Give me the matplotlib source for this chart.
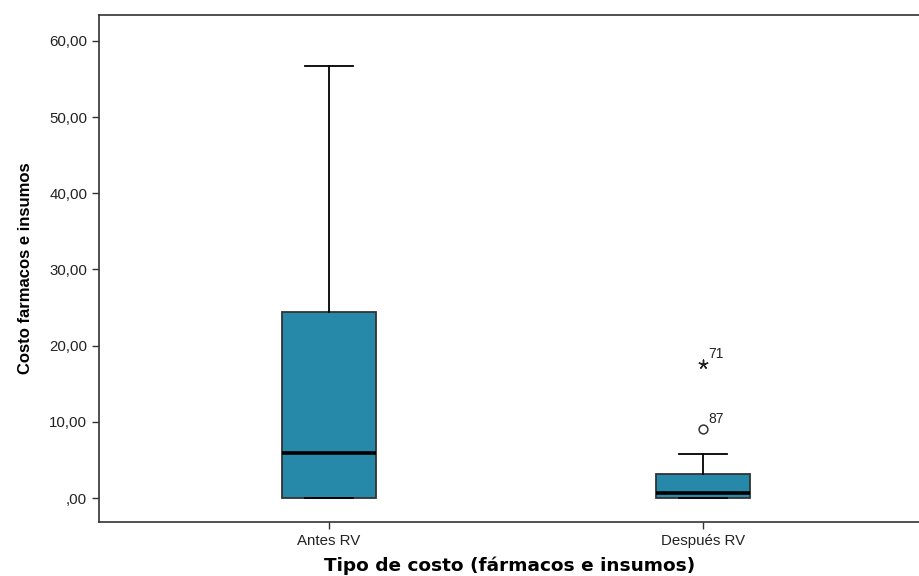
import matplotlib
matplotlib.use("Agg")
import matplotlib.pyplot as plt
from matplotlib.ticker import FuncFormatter

plt.rcParams['font.family'] = ['Liberation Sans', 'DejaVu Sans']

# Resumen de cajas (costo farmacos e insumos)
grupos = ['Antes RV', 'Después RV']
minimos = [0.0, 0.0]
q1 = [0.0, 0.0]
medianas = [5.9, 0.6]
q3 = [24.4, 3.15]
maximos = [56.7, 5.8]
# valores atipicos del grupo "Después RV"
atipicos_val = [9.1]
atipicos_id = ['87']
extremos_val = [17.6]
extremos_id = ['71']

color_caja = '#2789AA'

fig = plt.figure(figsize=(9.2, 5.76), dpi=100)
ax = fig.add_axes([0.1076, 0.0937, 0.8924, 0.8803])

stats = []
for i, g in enumerate(grupos):
    stats.append({'label': g, 'whislo': minimos[i], 'q1': q1[i], 'med': medianas[i],
                  'q3': q3[i], 'whishi': maximos[i], 'fliers': []})

pos = [1, 2]
ax.bxp(stats, positions=pos, widths=0.25, patch_artist=True, showfliers=False,
       boxprops=dict(facecolor=color_caja, edgecolor='#333333', linewidth=1.3),
       medianprops=dict(color='black', linewidth=2.6),
       whiskerprops=dict(color='black', linewidth=1.3),
       capprops=dict(color='black', linewidth=1.3),
       capwidths=0.126)

# atipicos (circulo) y extremos (asterisco)
ax.scatter([pos[1]] * len(atipicos_val), atipicos_val, s=40, facecolors='white',
           edgecolors='#333333', linewidths=1.1, zorder=5)
ax.scatter([pos[1]] * len(extremos_val), extremos_val, s=40, marker=(5, 2, 0),
           color='#222222', linewidths=1.0, zorder=5)
for v, t in zip(atipicos_val + extremos_val, atipicos_id + extremos_id):
    ax.annotate(t, (pos[1], v), xytext=(4, 4), textcoords='offset points',
                fontsize=10, color='#222222')

ax.set_xlim(0.385, 2.58)
ax.set_ylim(-3.15, 63.4)
ax.set_yticks([0, 10, 20, 30, 40, 50, 60])
ax.yaxis.set_major_formatter(FuncFormatter(
    lambda v, p: ',00' if v == 0 else ('%.2f' % v).replace('.', ',')))
ax.set_xticks(pos)
ax.set_xticklabels(grupos)
ax.tick_params(axis='both', direction='out', length=5, width=1, labelsize=10.8,
               colors='#333333', labelcolor='#222222')

for s in ax.spines.values():
    s.set_color('#333333')
    s.set_linewidth(1.2)

ax.set_ylabel('Costo farmacos e insumos', fontsize=12, fontweight='bold',
              labelpad=12)
ax.set_xlabel('Tipo de costo (fármacos e insumos)', fontsize=13.3,
              fontweight='bold', family=['DejaVu Sans'], labelpad=6)

fig.savefig('out.png', dpi=100)
